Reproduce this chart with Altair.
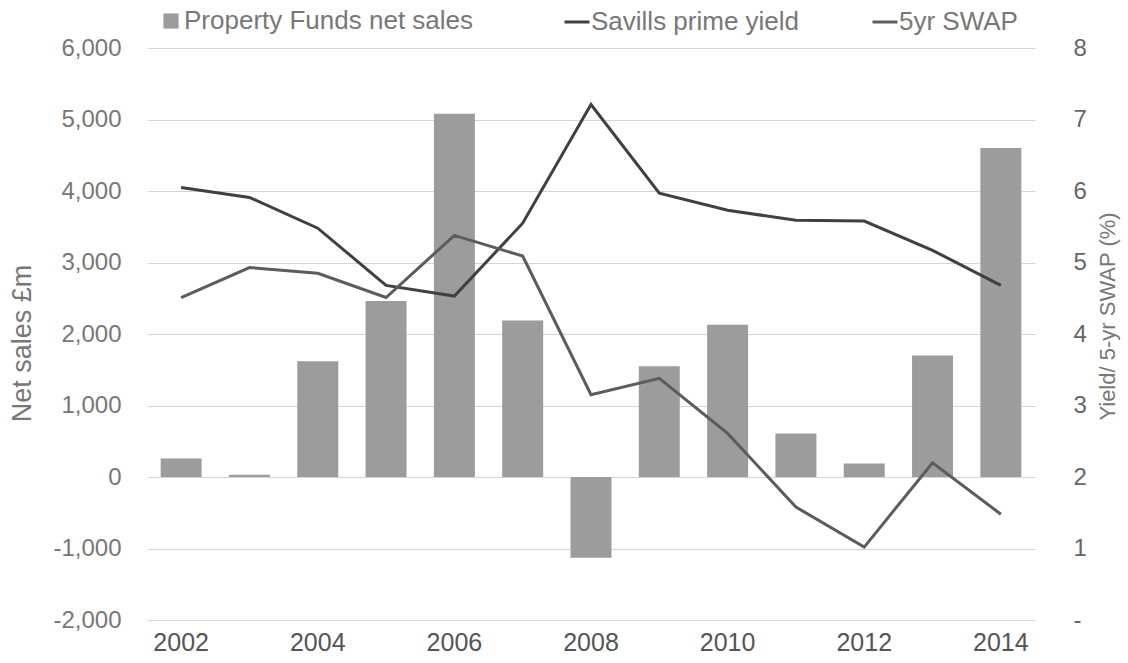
import altair as alt
import pandas as pd

years = [str(y) for y in range(2002, 2015)]
net_sales = [260, 30, 1620, 2460, 5080, 2190, -1130, 1550, 2130, 610, 190, 1700, 4600]
prime_yield = [6.05, 5.91, 5.48, 4.68, 4.53, 5.55, 7.21, 5.97, 5.73, 5.59, 5.58, 5.17, 4.68]
swap_5yr = [4.51, 4.93, 4.85, 4.51, 5.38, 5.09, 3.15, 3.38, 2.61, 1.58, 1.02, 2.20, 1.48]

bar_name = "Property Funds net sales"
line_names = ["Savills prime yield", "5yr SWAP"]
x_ticks = ["2002", "2004", "2006", "2008", "2010", "2012", "2014"]
left_ticks = [-2000, -1000, 0, 1000, 2000, 3000, 4000, 5000, 6000]
right_ticks = [0, 1, 2, 3, 4, 5, 6, 7, 8]

bars_df = pd.DataFrame({"year": years, "value": net_sales, "series": bar_name})
lines_df = pd.concat([
    pd.DataFrame({"year": years, "value": prime_yield, "series": line_names[0]}),
    pd.DataFrame({"year": years, "value": swap_5yr, "series": line_names[1]}),
])

FONT = "Liberation Sans"

x_enc = alt.X(
    "year:N",
    sort=years,
    scale=alt.Scale(paddingInner=0.4, paddingOuter=0.2),
    axis=alt.Axis(
        values=x_ticks, labelAngle=0, ticks=False, domain=False, grid=False,
        labelFontSize=25, labelColor="#555555", labelFont=FONT, labelPadding=10,
        title=None,
    ),
)

bars = alt.Chart(bars_df).mark_bar(color="#9c9c9c").encode(
    x=x_enc,
    y=alt.Y(
        "value:Q",
        scale=alt.Scale(domain=[-2000, 6000], nice=False, zero=False),
        axis=alt.Axis(
            orient="left", values=left_ticks, ticks=False, domain=False,
            labelExpr="(datum.value < 0 ? '-' : '') + format(abs(datum.value), ',.0f')",
            grid=True, gridColor="#d4d4d4", gridWidth=1.2,
            labelFontSize=24, labelColor="#777777", labelFont=FONT, labelPadding=26,
            title="Net sales £m", titleFontSize=27, titleFontWeight="normal",
            titleColor="#777777", titleFont=FONT, titleAngle=270,
            titleX=-125, titleY=295, titleAlign="center", titleBaseline="middle",
        ),
    ),
    fill=alt.Fill(
        "series:N",
        scale=alt.Scale(domain=[bar_name], range=["#9c9c9c"]),
        legend=alt.Legend(
            title=None, orient="none", legendX=11, legendY=-40,
            symbolType="square", symbolSize=230, symbolStrokeWidth=0,
            labelFontSize=26, labelColor="#777777", labelFont=FONT, labelOffset=0,
            labelLimit=0,
        ),
    ),
)

lines = alt.Chart(lines_df).mark_line(strokeWidth=3).encode(
    x=x_enc,
    y=alt.Y(
        "value:Q",
        scale=alt.Scale(domain=[0, 8], nice=False, zero=False),
        axis=alt.Axis(
            orient="right", values=right_ticks, ticks=False, domain=False, grid=False,
            labelExpr="datum.value == 0 ? '-' : datum.label",
            labelFontSize=24, labelColor="#666666", labelFont=FONT, labelPadding=38,
            title="Yield/ 5-yr SWAP (%)", titleFontSize=22, titleFontWeight="normal",
            titleColor="#777777", titleFont=FONT, titleAngle=270,
            titleX=72, titleY=268, titleAlign="center", titleBaseline="middle",
        ),
    ),
    stroke=alt.Stroke(
        "series:N",
        scale=alt.Scale(domain=line_names, range=["#404040", "#5c5c5c"]),
        legend=alt.Legend(
            title=None, orient="none", legendX=416, legendY=-40, direction="horizontal",
            symbolType="stroke", symbolSize=625, symbolStrokeWidth=3,
            labelFontSize=26, labelColor="#777777", labelFont=FONT, labelOffset=0,
            labelLimit=0, columnPadding=66,
        ),
    ),
    detail="series:N",
)

chart = alt.layer(bars, lines).resolve_scale(
    y="independent", fill="independent", stroke="independent"
).properties(
    width=888, height=572,
    autosize=alt.AutoSizeParams(type="none"),
    padding={"left": 147, "top": 48, "right": 93, "bottom": 43},
    background="white",
).configure_view(stroke=None)

chart.save("out.html", embed_options={"renderer": "svg", "actions": False})
